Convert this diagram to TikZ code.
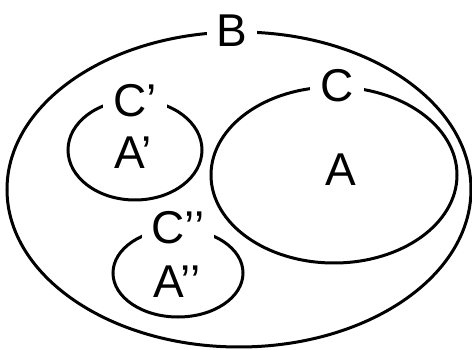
\documentclass[tikz,border=0pt]{standalone}
\usepackage{fontspec}
\setmainfont{Liberation Sans}
\usetikzlibrary{shapes.geometric}
\tikzset{
  set/.style={draw, ellipse, line width=3pt, inner sep=0pt},
  setname/.style={fill=white, inner xsep=10pt, inner ysep=1pt},
  elem/.style={inner sep=0pt}
}
\begin{document}
\begin{tikzpicture}[x=1pt,y=-1pt,font=\fontsize{46}{52}\selectfont]
  \useasboundingbox (0,0) rectangle (472,350);
  % outer set
  \node[set, minimum width=464pt, minimum height=315pt] (B) at (239,189.5) {};
  \node[setname] (Bname) at ([xshift=-7pt]B.north) {B};
  % right set
  \node[set, minimum width=246pt, minimum height=176pt] (C) at (334,175) {};
  \node[setname] (Cname) at ([xshift=3pt]C.north) {C};
  \node[elem] (A) at (341,170) {A};
  % small sets
  \node[set, minimum width=134pt, minimum height=100pt] (C1) at (135,150) {};
  \node[setname] (C1name) at ([yshift=-2pt]C1.north) {C’};
  \node[elem] (A1) at (133,153) {A’};
  \node[set, minimum width=130pt, minimum height=88pt] (C2) at (178,273) {};
  \node[setname] (C2name) at (C2.north) {C’’};
  \node[elem] (A2) at (177,282) {A’’};
\end{tikzpicture}
\end{document}
